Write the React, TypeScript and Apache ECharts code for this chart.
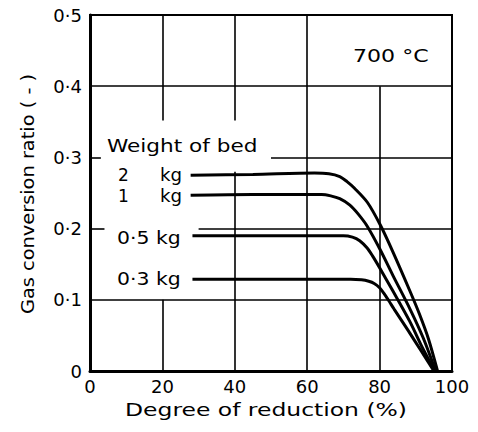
import React, { useEffect, useRef } from "react";
import * as echarts from "echarts";

const xTicks = [0, 20, 40, 60, 80, 100];
const yTickLabels = ["0", "0·1", "0·2", "0·3", "0·4", "0·5"];

const bed2kg: [number, number][] = [
  [27.8, 0.275], [45, 0.276], [62, 0.278], [66, 0.277], [69, 0.273], [71, 0.266],
  [73, 0.257], [76.6, 0.237], [80.2, 0.205], [83.7, 0.167], [88.4, 0.112], [91, 0.08],
  [93.5, 0.045], [96, 0.0],
];
const bed1kg: [number, number][] = [
  [27.8, 0.247], [45, 0.248], [64, 0.248], [66.5, 0.246], [69, 0.242], [71.8, 0.233],
  [74, 0.221], [76.5, 0.204], [80.1, 0.171], [83.7, 0.134], [88.4, 0.087], [92, 0.047],
  [95.5, 0.0],
];
const bed05kg: [number, number][] = [
  [28.3, 0.19], [45, 0.19], [70, 0.19], [72.5, 0.188], [74.5, 0.183], [76.5, 0.173],
  [78, 0.162], [80, 0.145], [83.6, 0.113], [88.3, 0.07], [91.9, 0.032], [95.3, 0.0],
];
const bed03kg: [number, number][] = [
  [28.3, 0.129], [45, 0.129], [72, 0.129], [75, 0.128], [77, 0.126], [78.5, 0.123],
  [80, 0.117], [81.2, 0.109], [82.5, 0.099], [84, 0.087], [88, 0.056], [91.5, 0.028],
  [95, 0.0],
];

// grid segments drawn in data coordinates: [x1, y1, x2, y2]
const gridSegments: [number, number, number, number][] = [
  [0, 0.4, 100, 0.4],
  [50, 0.3, 100, 0.3],
  [0, 0.3, 3, 0.3],
  [30, 0.2, 100, 0.2],
  [0, 0.2, 4, 0.2],
  [0, 0.1, 100, 0.1],
  [20, 0.5, 20, 0.352],
  [20, 0.1, 20, 0],
  [40, 0.5, 40, 0.352],
  [40, 0.28, 40, 0],
  [60, 0.5, 60, 0],
  [80, 0.4, 80, 0],
];

const FONT = "DejaVu Sans";
const F17 = `17px '${FONT}'`;

export default function App() {
  const ref = useRef<HTMLDivElement>(null);
  useEffect(() => {
    document.body.style.margin = "0";
    const chart = echarts.init(ref.current!, undefined, { renderer: "svg" });
    const curve = (name: string, data: [number, number][]) => ({
      name,
      type: "line",
      data,
      smooth: 0.3,
      showSymbol: false,
      symbol: "none",
      lineStyle: { color: "#000", width: 3 },
      silent: true,
    });
    const s0: any = curve("2 kg", bed2kg);
    s0.markLine = {
      silent: true,
      symbol: "none",
      label: { show: false },
      lineStyle: { color: "#000", width: 1.6, type: "solid" },
      data: gridSegments.map(([x1, y1, x2, y2]) => [
        { coord: [x1, y1] },
        { coord: [x2, y2] },
      ]),
    };
    const txt = (text: string, x: number, y: number, sx: number, extra: any = {}) => ({
      type: "text",
      x,
      y,
      scaleX: sx,
      ...extra,
      style: { text, font: F17, fill: "#000", textAlign: "left", textVerticalAlign: "middle", ...(extra.style || {}) },
    });
    chart.setOption({
      animation: false,
      backgroundColor: "#fff",
      grid: {
        left: 90, top: 15, width: 362, height: 356,
        show: true, borderColor: "#000", borderWidth: 2, backgroundColor: "transparent",
      },
      xAxis: {
        type: "value", min: 0, max: 100, interval: 20,
        axisLine: { show: true, lineStyle: { color: "#000", width: 3 } },
        axisTick: { show: false },
        splitLine: { show: false },
        axisLabel: { fontFamily: FONT, fontSize: 18, color: "#000", margin: 6,
          formatter: (v: number) => (xTicks.includes(v) ? String(v) : "") },
      },
      yAxis: {
        type: "value", min: 0, max: 0.5, interval: 0.1,
        axisLine: { show: true, lineStyle: { color: "#000", width: 3 } },
        axisTick: { show: false },
        splitLine: { show: false },
        axisLabel: { fontFamily: FONT, fontSize: 18, color: "#000", margin: 8,
          formatter: (v: number) => yTickLabels[Math.round(v * 10)] ?? "" },
      },
      graphic: [
        txt("Degree of reduction (%)", 266, 410, 1.38, { style: { textAlign: "center" } }),
        txt("Gas conversion ratio ( - )", 28, 194, 1.14, { rotation: Math.PI / 2, style: { textAlign: "center" } }),
        txt("700 °C", 353, 56, 1.3),
        txt("Weight of bed", 107, 146, 1.27),
        txt("2", 118, 175, 1),
        txt("kg", 160, 175, 1.07),
        txt("1", 118, 196, 1),
        txt("kg", 160, 196, 1.07),
        txt("0·5 kg", 117, 238, 1.2),
        txt("0·3 kg", 117, 279, 1.2),
      ],
      series: [
        s0,
        curve("1 kg", bed1kg),
        curve("0.5 kg", bed05kg),
        curve("0.3 kg", bed03kg),
      ],
    });
    return () => chart.dispose();
  }, []);
  return <div ref={ref} style={{ width: 478, height: 432 }} />;
}
